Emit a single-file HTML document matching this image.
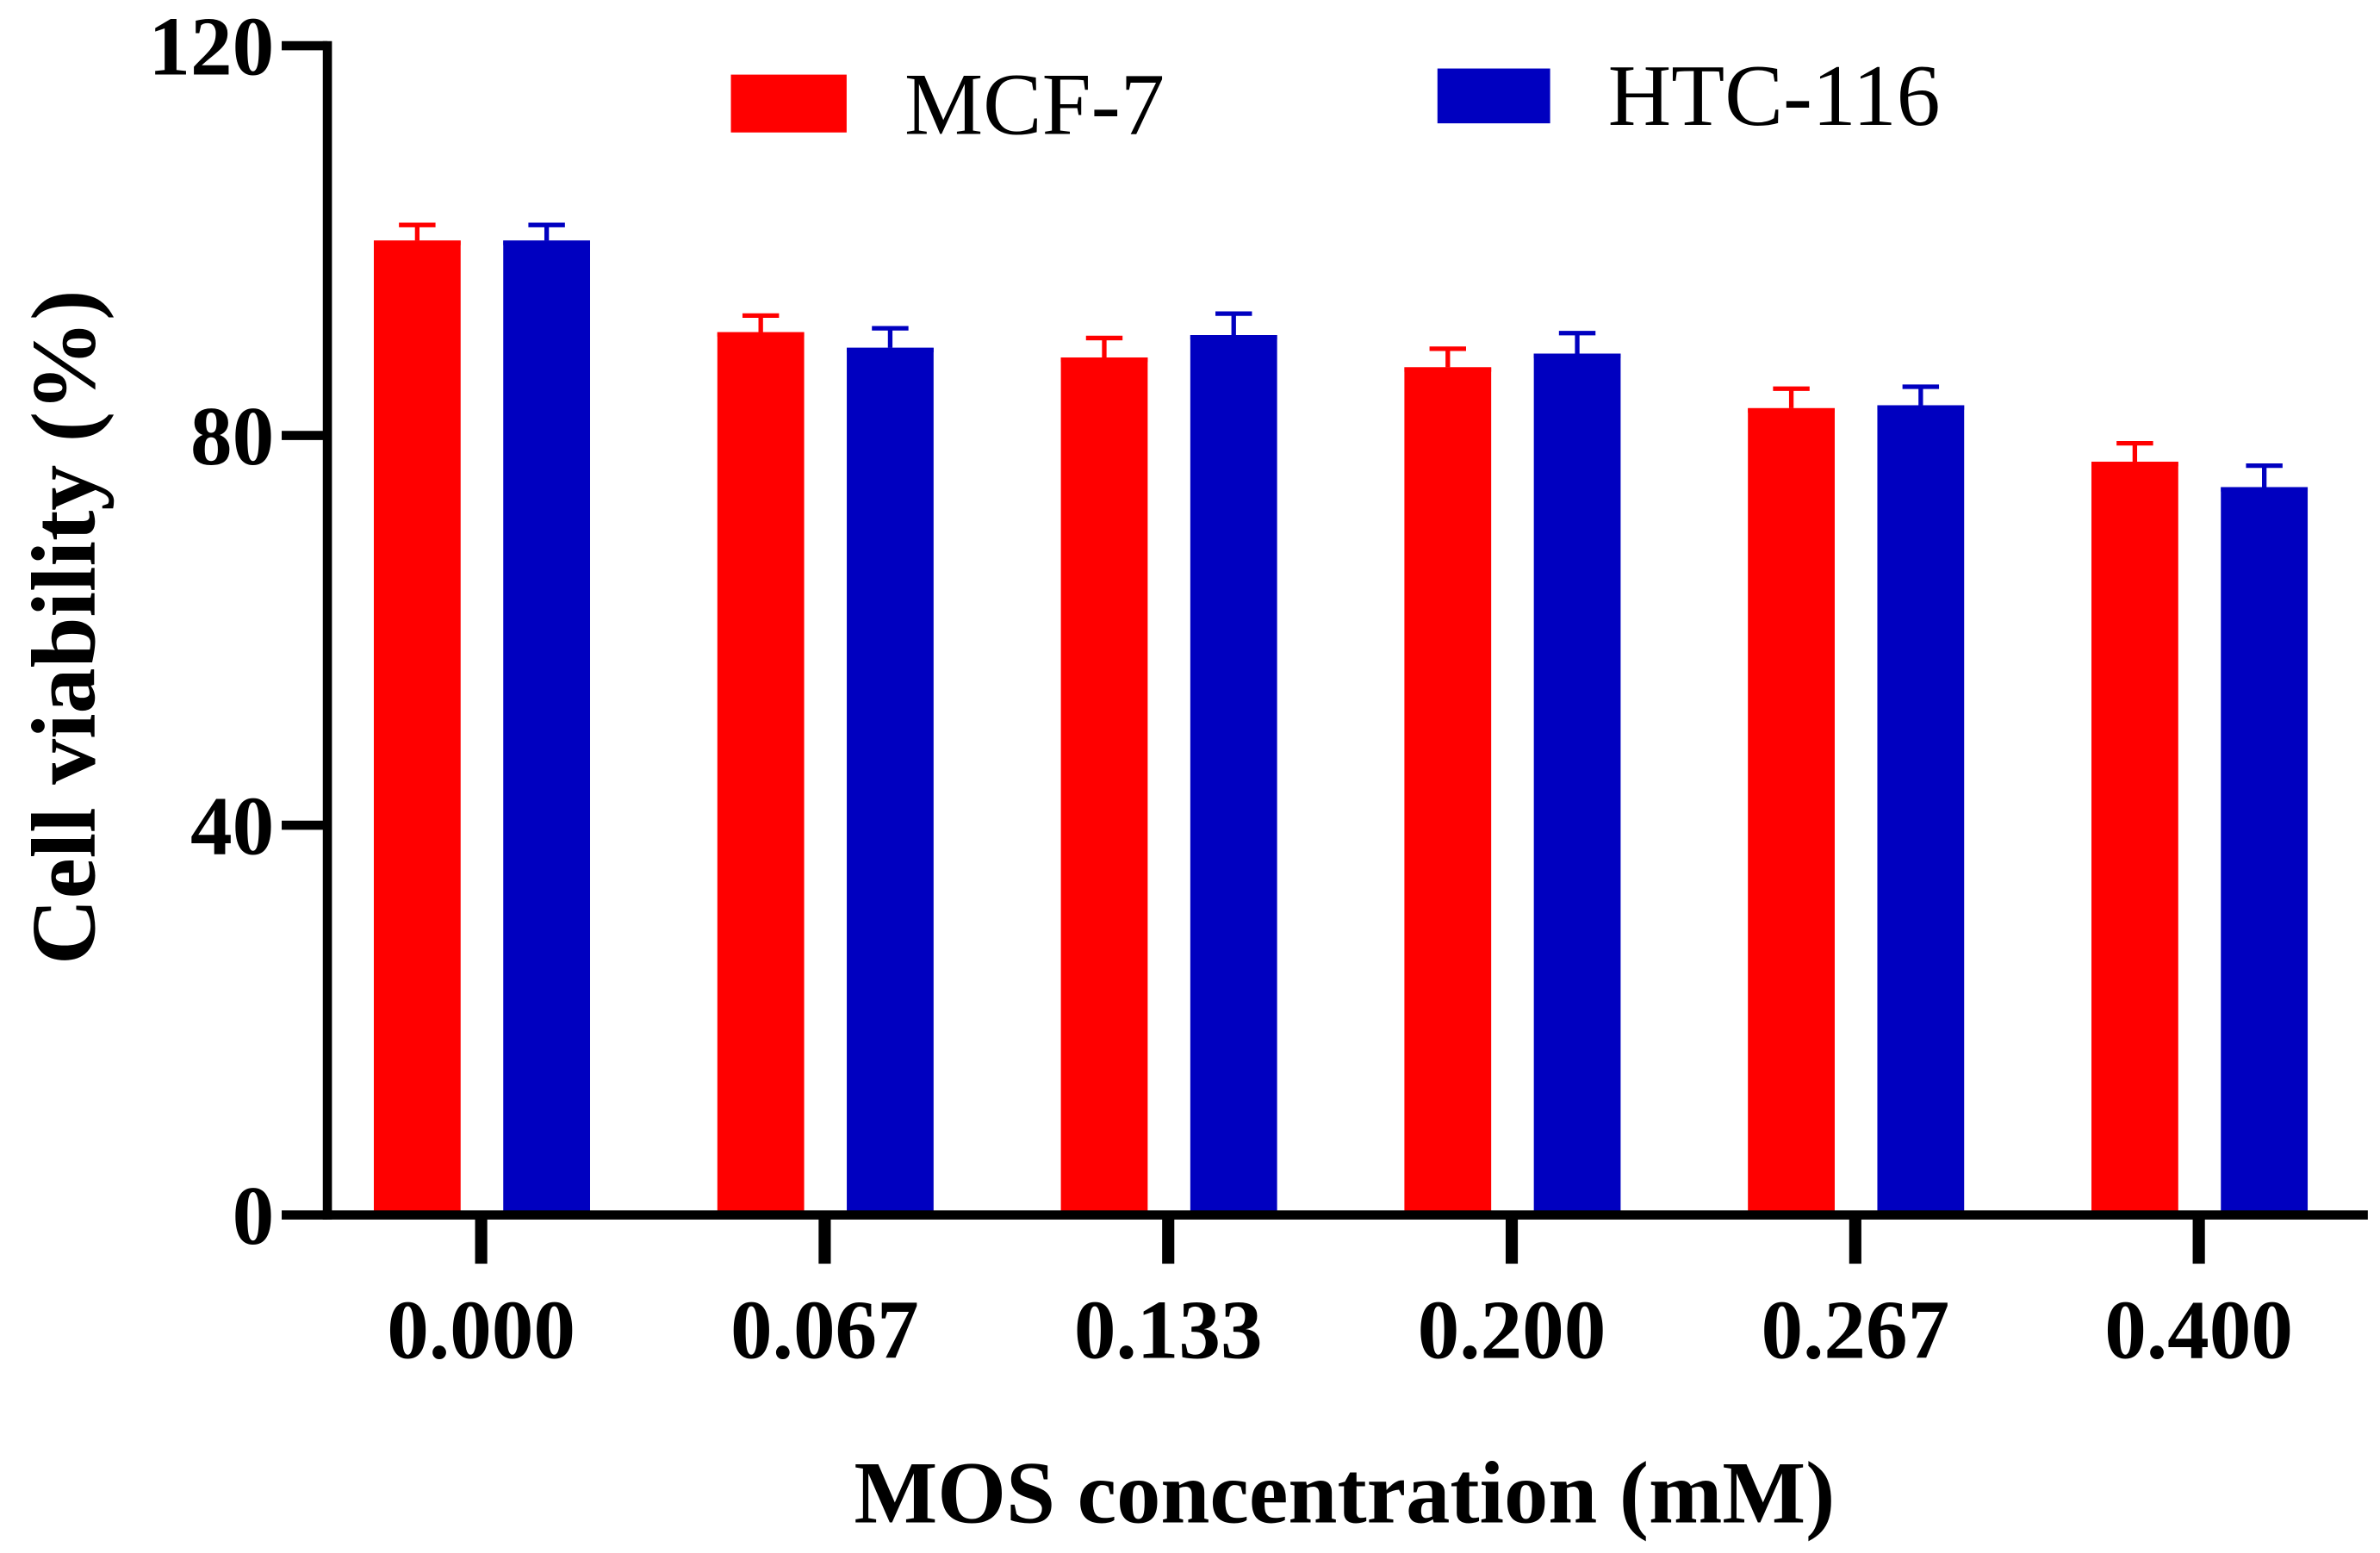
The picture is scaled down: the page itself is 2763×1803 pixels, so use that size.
<!DOCTYPE html>
<html><head><meta charset="utf-8"><style>html,body{margin:0;padding:0;background:#fff}svg{display:block}</style></head>
<body>
<svg id="chart" width="2763" height="1803" viewBox="0 0 1563 1020" preserveAspectRatio="none" xmlns="http://www.w3.org/2000/svg" font-family="'Liberation Serif', serif">
<g id="plot"></g>
</svg>
<script>
const categories = ["0.000","0.067","0.133","0.200","0.267","0.400"];
const mcf7 = [100, 90.6, 88, 87, 82.8, 77.3];
const mcf7Err = [1.6, 1.7, 2.0, 1.9, 2.0, 1.9];
const htc116 = [100, 89, 90.3, 88.4, 83.1, 74.7];
const htc116Err = [1.6, 2.0, 2.2, 2.1, 1.9, 2.2];
const yTicks = [0, 40, 80, 120];

const NS = "http://www.w3.org/2000/svg";
const g = document.getElementById('plot');
const x0 = 215, xEnd = 1555, y0 = 798, yTop = 30;
const yScale = v => y0 - (v / 120) * (y0 - yTop);
const xScale = i => 316 + i * 225.6;
function el(tag, attrs, text) {
  const e = document.createElementNS(NS, tag);
  for (const k in attrs) e.setAttribute(k, attrs[k]);
  if (text !== undefined) e.textContent = text;
  g.appendChild(e);
  return e;
}
const series = [
  {vals: mcf7, errs: mcf7Err, color: '#ff0000', off: -42, name: 'mcf7'},
  {vals: htc116, errs: htc116Err, color: '#0000c0', off: 43, name: 'htc116'}
];
const bw = 57;
series.forEach(s => {
  s.vals.forEach((v, i) => {
    const cx = xScale(i) + s.off;
    const top = yScale(v), et = yScale(v + s.errs[i]);
    const ln = el('line', {x1: cx, x2: cx, y1: top, y2: et, stroke: s.color, 'stroke-width': 3});
    
    
    const cap = el('line', {x1: cx - 12, x2: cx + 12, y1: et, y2: et, stroke: s.color, 'stroke-width': 3});
    
    
    const r = el('rect', {x: cx - bw / 2, y: top, width: bw, height: y0 - top, fill: s.color});
    
    
    const edge = el('line', {x1: cx - bw / 2, x2: cx + bw / 2, y1: top + 1.5, y2: top + 1.5, stroke: s.color, 'stroke-width': 3});
    
    
  });
});
const ya = el('line', {x1: x0, x2: x0, y1: yTop - 3, y2: y0 + 3, stroke: '#000', 'stroke-width': 6});


const xa = el('line', {x1: x0 - 3, x2: xEnd, y1: y0, y2: y0, stroke: '#000', 'stroke-width': 6});


yTicks.forEach(t => {
  const y = yScale(t);
  const tk = el('line', {x1: 185, x2: x0, y1: y, y2: y, stroke: '#000', 'stroke-width': 6});
  
  
  const lb = el('text', {x: 180, y: y + 19, 'text-anchor': 'end', 'font-size': 55, 'font-weight': 'bold'}, String(t));
  
  
});
categories.forEach((c, i) => {
  const x = xScale(i);
  const tk = el('line', {x1: x, x2: x, y1: y0, y2: 830, stroke: '#000', 'stroke-width': 8});
  
  
  const lb = el('text', {x: x, y: 892, 'text-anchor': 'middle', 'font-size': 55, 'font-weight': 'bold'}, c);
  
  
});
const xt = el('text', {x: 883, y: 1000, 'text-anchor': 'middle', 'font-size': 58, 'font-weight': 'bold'}, 'MOS concentration (mM)');


const yt = el('text', {x: 0, y: 0, 'text-anchor': 'middle', 'font-size': 60, 'font-weight': 'bold', transform: 'translate(62,412) rotate(-90)'}, 'Cell viability (%)');


const l1 = el('rect', {x: 480, y: 49, width: 76, height: 38, fill: '#ff0000'});


const t1 = el('text', {x: 594, y: 88, 'font-size': 58}, 'MCF-7');


const l2 = el('rect', {x: 944, y: 45, width: 74, height: 36, fill: '#0000c0'});


const t2 = el('text', {x: 1056, y: 82, 'font-size': 57.5}, 'HTC-116');


</script>
</body></html>
